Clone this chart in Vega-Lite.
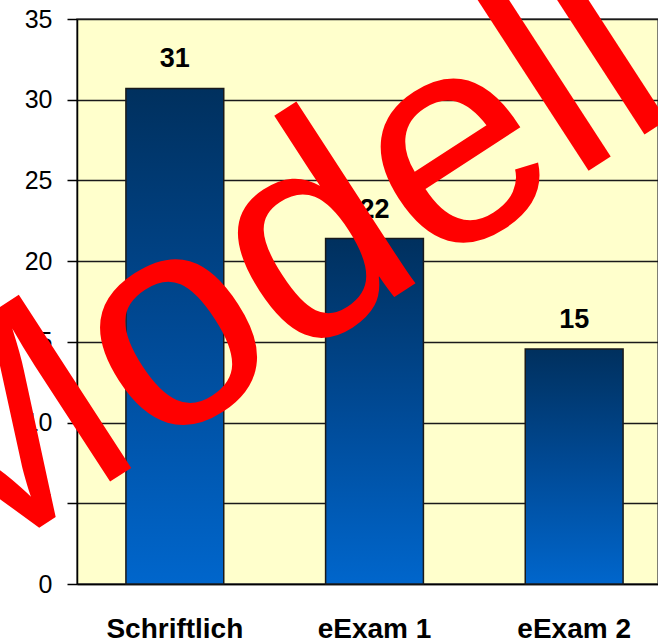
{
  "$schema": "https://vega.github.io/schema/vega-lite/v6.json",
  "width": 581,
  "height": 565,
  "autosize": {"type": "none"},
  "padding": {"left": 77, "top": 19, "right": 0, "bottom": 58},
  "background": "#FFFFFF",
  "config": {
    "view": {"fill": "#FFFFCC", "stroke": "#555555", "strokeWidth": 1.5},
    "font": "Liberation Sans"
  },
  "datasets": {
    "bars": [
      {"Kategorie": "Schriftlich", "Wert": 30.7, "Label": "31"},
      {"Kategorie": "eExam 1", "Wert": 21.4, "Label": "22"},
      {"Kategorie": "eExam 2", "Wert": 14.55, "Label": "15"}
    ],
    "mark": [
      {"Kategorie": "eExam 1", "Wert": 14.5, "Text": "Modell"}
    ]
  },
  "layer": [
    {
      "data": {"name": "bars"},
      "mark": {
        "type": "bar",
        "stroke": "#1A1A1A",
        "strokeWidth": 1.5,
        "fill": {
          "gradient": "linear",
          "x1": 0, "y1": 0, "x2": 0, "y2": 1,
          "stops": [
            {"offset": 0, "color": "#00305E"},
            {"offset": 0.5, "color": "#004A96"},
            {"offset": 1, "color": "#0066CC"}
          ]
        }
      },
      "encoding": {
        "x": {
          "field": "Kategorie",
          "type": "nominal",
          "sort": null,
          "scale": {"range": [0, 595], "paddingInner": 0.51, "paddingOuter": 0.245},
          "axis": {
            "title": null,
            "labelAngle": 0,
            "labelFont": "Liberation Sans",
            "labelFontSize": 28,
            "labelFontWeight": "bold",
            "labelColor": "#000000",
            "labelPadding": 31,
            "ticks": false,
            "tickSize": 0,
            "domainColor": "#000000",
            "domainWidth": 1.5,
            "grid": false
          }
        },
        "y": {
          "field": "Wert",
          "type": "quantitative",
          "scale": {"domain": [0, 35], "nice": false},
          "axis": {
            "title": null,
            "values": [0, 5, 10, 15, 20, 25, 30, 35],
            "labelFont": "Liberation Sans",
            "labelFontSize": 25,
            "labelColor": "#000000",
            "labelPadding": 15,
            "tickSize": 10,
            "tickColor": "#000000",
            "tickWidth": 1.5,
            "domainColor": "#000000",
            "domainWidth": 1.5,
            "grid": true,
            "gridColor": "#1A1A1A",
            "gridWidth": 1.3,
            "gridOpacity": 1
          }
        }
      }
    },
    {
      "data": {"name": "bars"},
      "mark": {
        "type": "text",
        "font": "Liberation Sans",
        "fontSize": 27,
        "fontWeight": "bold",
        "color": "#000000",
        "baseline": "alphabetic",
        "align": "center",
        "dy": -21
      },
      "encoding": {
        "x": {"field": "Kategorie", "type": "nominal", "sort": null},
        "y": {"field": "Wert", "type": "quantitative"},
        "text": {"field": "Label"}
      }
    },
    {
      "data": {"name": "mark"},
      "mark": {
        "type": "text",
        "font": "Liberation Sans",
        "fontSize": 300,
        "color": "#FF0000",
        "angle": -33,
        "align": "center",
        "baseline": "alphabetic"
      },
      "encoding": {
        "x": {"field": "Kategorie", "type": "nominal", "sort": null, "bandPosition": -0.13},
        "y": {"field": "Wert", "type": "quantitative"},
        "text": {"field": "Text"}
      }
    }
  ]
}
